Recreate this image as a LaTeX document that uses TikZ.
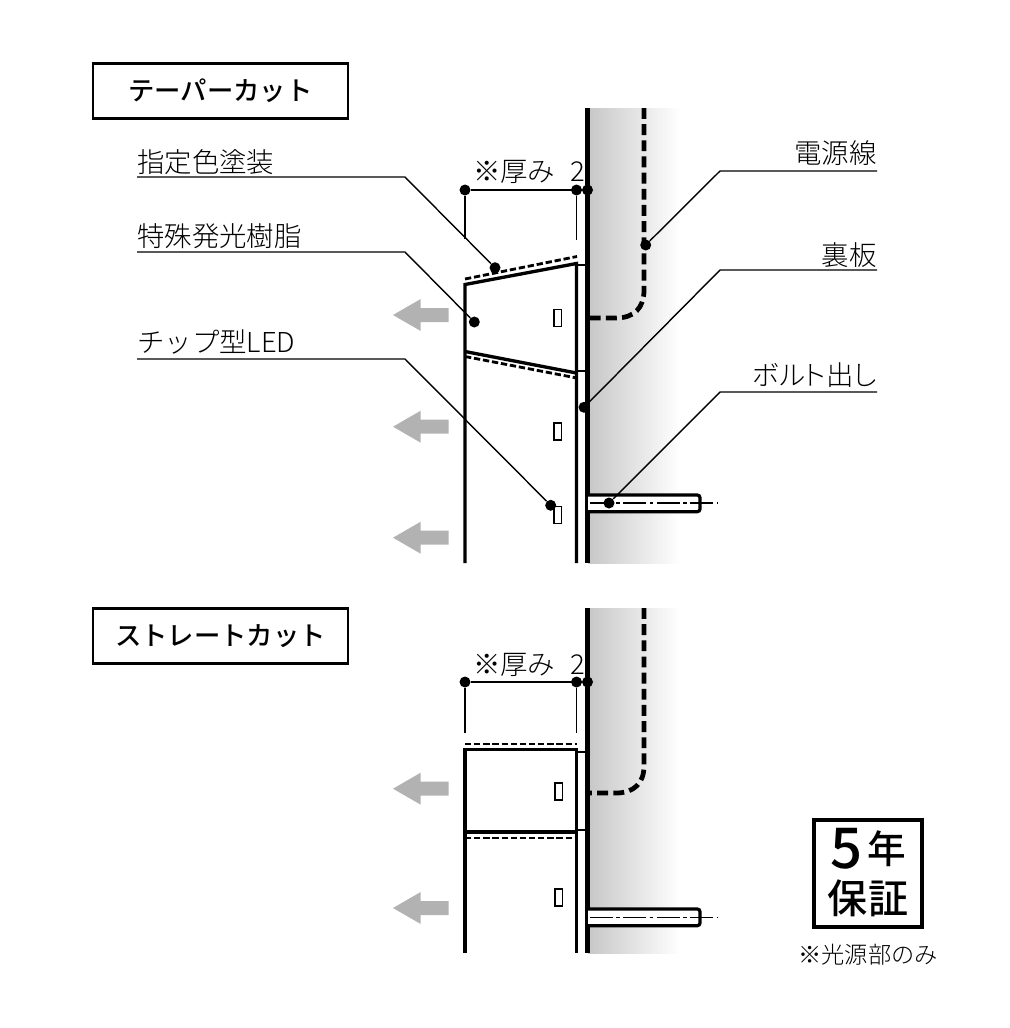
\documentclass[tikz,border=0pt]{standalone}
\usepackage{fontspec}
\setmainfont{Noto Sans CJK JP Light}[BoldFont={Noto Sans CJK JP Medium}]
\newfontfamily\palfont{Noto Sans CJK JP Light}[RawFeature=+palt]
\usepackage{xcolor}
\usetikzlibrary{arrows,positioning,calc}

\begin{document}
\begin{tikzpicture}[x=.02cm,y=-.02cm]
\tikzset{
 titlebox/.style={draw, line width=1.2pt, minimum width=5.1cm, minimum height=1.1cm, inner sep=0pt, font=\fontsize{15}{17}\selectfont\bfseries},
 lbl/.style={inner sep=0pt, font=\fontsize{15.6}{18}\selectfont},
 dot/.style={circle, fill=black, minimum size=.22cm, inner sep=0pt},
 thin line/.style={line width=.8pt},
 body/.style={line width=1.9pt},
 wall/.style={line width=2.5pt},
 ledge/.style={line width=1.2pt},
 coat/.style={line width=1.6pt, dash pattern=on 3.6pt off 1.6pt},
 cable/.style={line width=2.7pt, dash pattern=on 6.2pt off 3pt},
 led/.style={draw, line width=.8pt, minimum width=.15cm, minimum height=.34cm, inner sep=0pt},
 arrowglyph/.style={fill=black!30, draw=none},
 centerline/.style={line width=.7pt, dash pattern=on 13pt off 2pt on 2pt off 2pt}
}

\useasboundingbox (0,0) rectangle (1010,1028);

% Upper section: wall and cable
\shade[left color=black!22, right color=white] (588,108) rectangle (680,563);
\draw[wall] (587.5,108) -- (587.5,563);
\draw[cable] (644,108) -- (644,290) .. controls (644,308) and (634,318) .. (616,318) -- (589,318);

% Title and labels
\node[titlebox] (taper) at (220.5,91) {テーパーカット};
\node[lbl, anchor=west] (paint) at (137,162) {指定色塗装};
\node[lbl, anchor=west] (resin) at (137,236) {特殊発光樹脂};
\node[lbl, anchor=west] (chip) at (137,342) {チップ型LED};
\node[lbl, anchor=east] (cord) at (877,153) {電源線};
\node[lbl, anchor=east] (back) at (877,255) {裏板};
\node[lbl, anchor=east] (bolt) at (877,375) {\palfont ボルト出し};
\node[lbl] (thick) at (529,172) {※厚み\hspace{.55em}2};

% Case body
\draw[body] (465,563) -- (465,284.5) -- (576.5,263.5) -- (576.5,563);
\draw[body] (465,351.5) -- (576.5,373);
\draw[ledge] (576.5,265) -- (587.5,265);
\draw[ledge] (576.5,371) -- (587.5,371);
\draw[coat] (465,279) -- (577,256.5);
\draw[coat] (465,356.5) -- (577,378);

% LEDs and light arrows
\node[led] (led1) at (557.8,318) {};
\node[led] (led2) at (557.8,431.5) {};
\node[led] (led3) at (557.8,515) {};
\foreach \y in {315,426.7,537.7} {
 \fill[arrowglyph] (393,\y) -- (420.7,\y-16) -- (420.7,\y-7) -- (448.7,\y-7) -- (448.7,\y+7) -- (420.7,\y+7) -- (420.7,\y+16) -- cycle;
}

% Bolt
\draw[line width=1.8pt, fill=white, rounded corners=1.5pt] (588,495) -- (700,495) -- (700,511.7) -- (588,511.7);
\draw[centerline] (590,503) -- (716.7,503);

% Thickness dimension
\node[dot] (dimA) at (465,190) {};
\node[dot] (dimB) at (576.5,190) {};
\node[dot] (dimC) at (587.5,190) {};
\coordinate (endA) at (465,239);
\coordinate (endB) at (576.5,240);
\draw[thin line] (dimA) -- (dimC);
\draw[thin line] (dimA) -- (endA);
\draw[thin line] (dimB) -- (endB);

% Leaders
\node[dot] (dpaint) at (495,267.7) {};
\node[dot] (dresin) at (474.3,322) {};
\node[dot] (dchip) at (550.7,505.3) {};
\node[dot] (dcord) at (645.7,245) {};
\node[dot] (dback) at (584,407.3) {};
\node[dot] (dbolt) at (609,503) {};
\draw[thin line] (137,177) coordinate (a1) -- (405,177) coordinate (b1) -- (dpaint);
\draw[thin line] (137,252) coordinate (a2) -- (405,252) coordinate (b2) -- (dresin);
\draw[thin line] (137,359) coordinate (a3) -- (405,359) coordinate (b3) -- (dchip);
\draw[thin line] (877,171) coordinate (a4) -- (720,171) coordinate (b4) -- (dcord);
\draw[thin line] (877,270) coordinate (a5) -- (720,270) coordinate (b5) -- (dback);
\draw[thin line] (877,392) coordinate (a6) -- (720,392) coordinate (b6) -- (dbolt);

% Lower section: wall and cable
\shade[left color=black!22, right color=white] (588,608) rectangle (680,953);
\draw[wall] (587.5,608) -- (587.5,953);
\draw[cable] (644,608) -- (644,766) .. controls (644,783) and (634,793) .. (616,793) -- (589,793);

\node[titlebox] (straight) at (220.5,636) {ストレートカット};
\node[lbl] (thickb) at (529,665) {※厚み\hspace{.55em}2};

% Straight body
\draw[body] (465,953) -- (465,749.5) -- (576.5,749.5) -- (576.5,953);
\draw[body] (465,832) -- (576.5,832);
\draw[ledge] (576.5,752) -- (587.5,752);
\draw[ledge] (576.5,830) -- (587.5,830);
\draw[coat] (465,744) -- (577,744);
\draw[coat] (465,838) -- (577,838);

\node[led] (led4) at (558.8,791.5) {};
\node[led] (led5) at (558.8,897.5) {};
\foreach \y in {788.7,908} {
 \fill[arrowglyph] (393,\y) -- (420.7,\y-16) -- (420.7,\y-7) -- (448.7,\y-7) -- (448.7,\y+7) -- (420.7,\y+7) -- (420.7,\y+16) -- cycle;
}

\draw[line width=1.8pt, fill=white, rounded corners=1.5pt] (588,909) -- (700,909) -- (700,925.7) -- (588,925.7);
\draw[centerline] (590,917.5) -- (716.7,917.5);

\node[dot] (dimD) at (465,682) {};
\node[dot] (dimE) at (576.5,682) {};
\node[dot] (dimF) at (587.5,682) {};
\coordinate (endD) at (465,733);
\coordinate (endE) at (576.5,733);
\draw[thin line] (dimD) -- (dimF);
\draw[thin line] (dimD) -- (endD);
\draw[thin line] (dimE) -- (endE);

% Warranty mark
\node[draw, line width=2.2pt, minimum width=2.15cm, minimum height=2.15cm, inner sep=0pt] (mark) at (868,873.5) {};
\node[inner sep=0pt, font=\fontsize{32}{34}\selectfont\bfseries] (five) at (847,849) {5};
\node[inner sep=0pt, font=\fontsize{22}{24}\selectfont\bfseries] (nen) at (887,849) {年};
\node[inner sep=0pt, font=\fontsize{22.8}{24}\selectfont\bfseries] (hosho) at (868,898) {保証};
\node[inner sep=0pt, font=\fontsize{13.2}{15}\selectfont] (note) at (868,955) {※光源部のみ};

\end{tikzpicture}
\end{document}
